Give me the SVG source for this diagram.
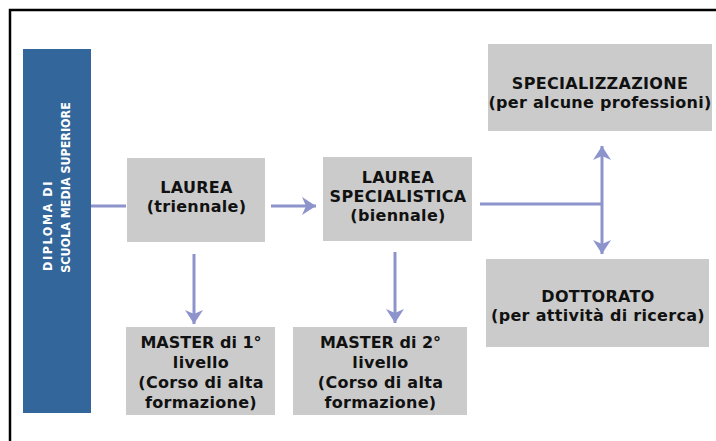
<svg xmlns="http://www.w3.org/2000/svg" width="716" height="441" viewBox="0 0 716 441">
<defs>
<style>
.box{fill:#cbcbcb}
.t{font-family:"DejaVu Sans",Verdana,sans-serif;font-weight:bold;font-size:16px;letter-spacing:0.3px;fill:#111;text-anchor:middle}
.v{font-family:"DejaVu Sans",Verdana,sans-serif;font-weight:bold;font-size:13px;fill:#fff}
.c{stroke:#8d94cc;stroke-width:3;fill:none}
</style>
<marker id="ah" markerUnits="userSpaceOnUse" viewBox="-14 -10 16 20" refX="0" refY="0" markerWidth="16" markerHeight="20" orient="auto">
<path d="M0,0 L-14,-9 L-10,0 L-14,9 Z" fill="#8d94cc"/>
</marker>
</defs>
<rect width="716" height="441" fill="#fff"/>
<path d="M10,441 V10 H716" fill="none" stroke="#000" stroke-width="2.5"/>

<g id="connectors">
<line class="c" x1="91" y1="206" x2="126" y2="206"/>
<line class="c" x1="271" y1="206" x2="316" y2="206" marker-end="url(#ah)"/>
<line class="c" x1="480" y1="204" x2="602" y2="204"/>
<line class="c" x1="602" y1="204" x2="602" y2="146" marker-end="url(#ah)"/>
<line class="c" x1="602" y1="204" x2="602" y2="254" marker-end="url(#ah)"/>
<line class="c" x1="194" y1="254" x2="194" y2="324" marker-end="url(#ah)"/>
<line class="c" x1="395" y1="252" x2="395" y2="323" marker-end="url(#ah)"/>
</g>

<g id="diploma">
<rect x="23" y="49" width="68" height="364" fill="#33669a"/>
<g transform="translate(52,271) rotate(-90) scale(0.86,1)">
<text class="v" x="0" y="0" textLength="104" lengthAdjust="spacing">DIPLOMA DI</text>
<text class="v" x="-2" y="18">SCUOLA MEDIA SUPERIORE</text>
</g>
</g>

<g id="laurea">
<rect class="box" x="127" y="158" width="138" height="84"/>
<text class="t" x="196.5" y="193">LAUREA</text>
<text class="t" x="196.5" y="212">(triennale)</text>
</g>

<g id="laurea-specialistica">
<rect class="box" x="323" y="157" width="149" height="84"/>
<text class="t" x="398" y="183">LAUREA</text>
<text class="t" x="398" y="202">SPECIALISTICA</text>
<text class="t" x="398" y="221">(biennale)</text>
</g>

<g id="specializzazione">
<rect class="box" x="488" y="44" width="224" height="87"/>
<text class="t" x="600" y="89">SPECIALIZZAZIONE</text>
<text class="t" x="600" y="108">(per alcune professioni)</text>
</g>

<g id="dottorato">
<rect class="box" x="486" y="259" width="223" height="88"/>
<text class="t" x="598" y="302">DOTTORATO</text>
<text class="t" x="598" y="321">(per attività di ricerca)</text>
</g>

<g id="master1">
<rect class="box" x="126" y="327" width="149" height="88"/>
<text class="t" x="201" y="348" style="letter-spacing:0">MASTER di 1°</text>
<text class="t" x="201" y="368">livello</text>
<text class="t" x="201" y="388">(Corso di alta</text>
<text class="t" x="201" y="408">formazione)</text>
</g>

<g id="master2">
<rect class="box" x="293" y="327" width="174" height="88"/>
<text class="t" x="380.5" y="348" style="letter-spacing:0">MASTER di 2°</text>
<text class="t" x="380.5" y="368">livello</text>
<text class="t" x="380.5" y="388">(Corso di alta</text>
<text class="t" x="380.5" y="408">formazione)</text>
</g>
</svg>
